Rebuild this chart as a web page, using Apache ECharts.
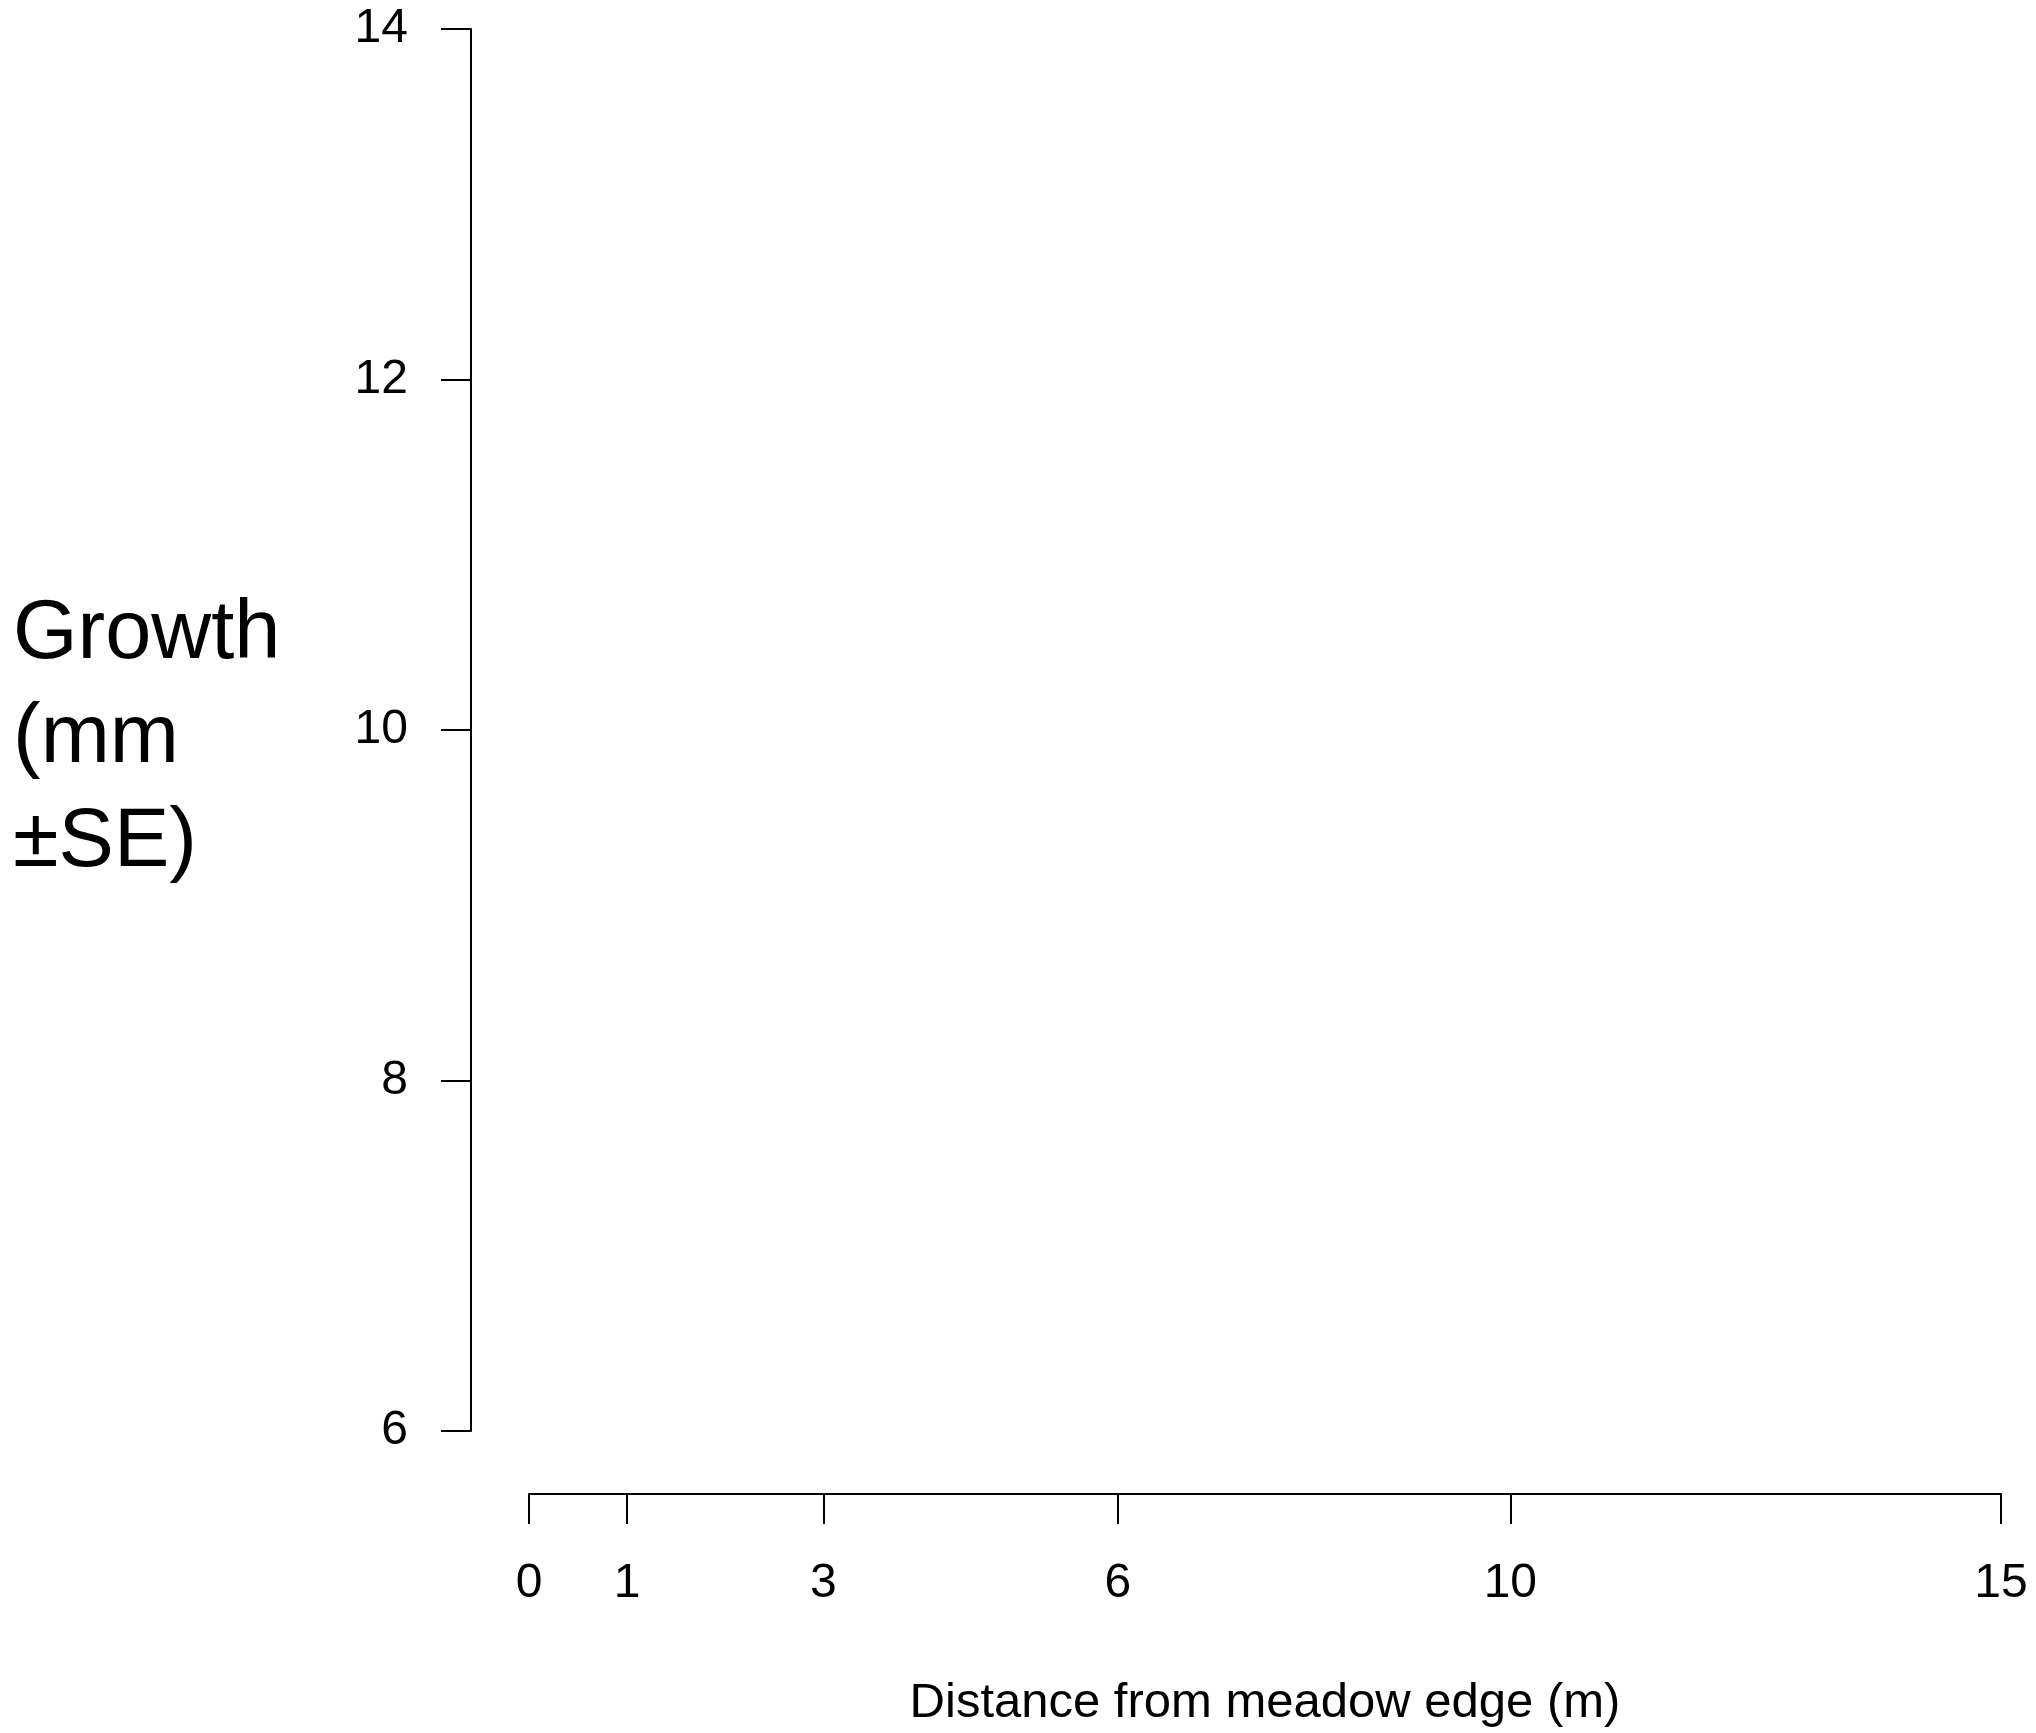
<!DOCTYPE html>
<html>
<head>
<meta charset="utf-8">
<script src="https://cdn.jsdelivr.net/npm/echarts@6/dist/echarts.min.js"></script>
<style>
html,body{margin:0;padding:0;background:#fff;}
#chart{width:2036px;height:1733px;}
</style>
</head>
<body>
<div id="chart"></div>
<script>
// Data (the reference chart contains only axes, no plotted marks)
const xTicks = [0, 1, 3, 6, 10, 15];
const yTicks = [6, 8, 10, 12, 14];
const xTitle = 'Distance from meadow edge (m)';
const yTitleLines = ['Growth', '(mm', '\u00b1SE)'];
const seriesData = [];

const FONT = '"Liberation Sans", Arial, sans-serif';
const chart = echarts.init(document.getElementById('chart'), null, {renderer: 'canvas'});
chart.setOption({
  backgroundColor: '#ffffff',
  animation: false,
  grid: {left: 529, right: 35, top: 29, bottom: 301, containLabel: false},
  xAxis: {
    type: 'value',
    min: xTicks[0],
    max: xTicks[xTicks.length - 1],
    offset: 63,
    axisLine: {show: true, onZero: false, lineStyle: {color: '#000', width: 2}},
    axisTick: {show: true, length: 30, lineStyle: {color: '#000', width: 2}, customValues: xTicks},
    axisLabel: {show: true, customValues: xTicks, margin: 66, color: '#000', fontSize: 48, fontFamily: FONT},
    splitLine: {show: false},
    name: xTitle,
    nameLocation: 'middle',
    nameGap: 185,
    nameTextStyle: {color: '#000', fontSize: 49, fontFamily: FONT}
  },
  yAxis: {
    type: 'value',
    min: yTicks[0],
    max: yTicks[yTicks.length - 1],
    interval: 2,
    offset: 58,
    axisLine: {show: true, onZero: false, lineStyle: {color: '#000', width: 2}},
    axisTick: {show: true, length: 30, lineStyle: {color: '#000', width: 2}},
    axisLabel: {show: true, margin: 63, color: '#000', fontSize: 48, fontFamily: FONT},
    splitLine: {show: false}
  },
  graphic: [{
    type: 'text',
    left: 13,
    top: 583,
    style: {
      text: yTitleLines.join('\n'),
      font: '83px ' + FONT,
      fill: '#000',
      lineHeight: 104
    }
  }],
  series: [{
    type: 'scatter',
    data: seriesData,
    symbolSize: 10,
    itemStyle: {color: '#000'}
  }]
});
</script>
</body>
</html>
